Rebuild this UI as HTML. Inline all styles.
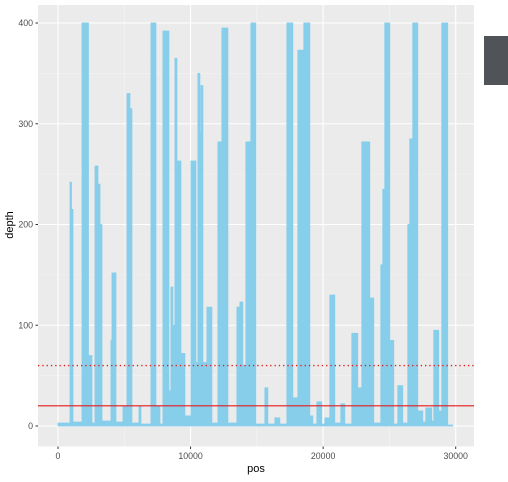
<!DOCTYPE html>
<html><head><meta charset="utf-8">
<style>
html,body{margin:0;padding:0;background:#fff;}
svg{display:block;font-family:"Liberation Sans",sans-serif;}
</style></head>
<body>
<svg id="chart" width="508" height="482" viewBox="0 0 508 482" xmlns="http://www.w3.org/2000/svg">
<rect x="38" y="5" width="436" height="441.5" fill="#EBEBEB"/>
<g id="grid"></g>
<g id="marks"></g>
<g id="axes"></g>
<rect x="484" y="36" width="24" height="49" fill="#505357"/>
<text x="256" y="472" font-size="11" text-anchor="middle" fill="#000">pos</text>
<text x="13" y="225" font-size="11" text-anchor="middle" fill="#000" transform="rotate(-90 13 225)">depth</text>
</svg>
<script>
const segStart = [0,905,1018,1130,1809,2299,2563,2789,3015,3166,3317,3995,4071,4372,4900,5202,5428,5578,6106,6257,7010,7387,7689,7915,8367,8518,8669,8820,8970,9272,9573,10026,10403,10553,10704,10779,10930,11232,11609,12061,12362,12815,13493,13719,13945,14171,14548,14925,15604,15830,16357,16734,17262,17714,18091,18543,18996,19222,19524,19900,20127,20503,20880,21332,21634,22161,22613,22915,23518,23820,24348,24498,24649,25026,25328,25629,26006,26383,26533,26760,27137,27514,27740,28192,28343,28720,28946,29398];
const segDepth = [3,242,215,4,400,70,3,258,240,200,5,85,152,4,20,330,315,3,20,2,400,20,2,392,35,138,100,365,263,72,10,263,63,350,290,338,63,118,3,282,395,3,118,123,60,282,400,2,38,2,8,2,400,28,373,400,10,2,24,2,8,130,3,22,2,92,38,282,127,3,160,235,400,85,2,40,3,200,285,400,15,4,18,5,95,15,400,1];
const lastEnd = 29775;
const xTicks = [0,10000,20000,30000];
const xMinor = [5000,15000,25000];
const yTicks = [0,100,200,300,400];
const yMinor = [50,150,250,350];
const hLines = [20,60];

const NS="http://www.w3.org/2000/svg";
const X = v => 58 + v*(397.7/30000);
const Y = v => 426 - v*(403/400);
const grid=document.getElementById('grid'), marks=document.getElementById('marks'), axes=document.getElementById('axes');
function mk(tag,attrs,parent){const e=document.createElementNS(NS,tag);for(const k in attrs)e.setAttribute(k,attrs[k]);parent.appendChild(e);return e;}

xMinor.forEach(v=>{const l=mk('line',{x1:X(v),x2:X(v),y1:5,y2:446.5,stroke:'#F5F5F5','stroke-width':0.6},grid);

});
yMinor.forEach(v=>{const l=mk('line',{x1:38,x2:474,y1:Y(v),y2:Y(v),stroke:'#F5F5F5','stroke-width':0.6},grid);

});
xTicks.forEach(v=>{const l=mk('line',{x1:X(v),x2:X(v),y1:5,y2:446.5,stroke:'#fff','stroke-width':1.1},grid);


const t=mk('line',{x1:X(v),x2:X(v),y1:446.5,y2:449,stroke:'#333','stroke-width':1},axes);


const tx=mk('text',{x:X(v),y:459,'font-size':8.8,'text-anchor':'middle',fill:'#4D4D4D'},axes);tx.textContent=v;

});
yTicks.forEach(v=>{const l=mk('line',{x1:38,x2:474,y1:Y(v),y2:Y(v),stroke:'#fff','stroke-width':1.1},grid);


const t=mk('line',{x1:35.5,x2:38,y1:Y(v),y2:Y(v),stroke:'#333','stroke-width':1},axes);


const tx=mk('text',{x:33,y:Y(v)+3,'font-size':8.8,'text-anchor':'end',fill:'#4D4D4D'},axes);tx.textContent=v;

});

let d='M'+X(segStart[0])+','+Y(0);
segStart.forEach((s,i)=>{const e=i+1<segStart.length?segStart[i+1]:lastEnd;d+=' L'+X(s)+','+Y(segDepth[i])+' L'+X(e)+','+Y(segDepth[i]);});
d+=' L'+X(lastEnd)+','+Y(0)+' Z';
const area=mk('path',{d:d,fill:'#87CEEB',stroke:'#87CEEB','stroke-width':0.8,'stroke-linejoin':'round'},marks);



hLines.forEach((v,i)=>{const l=mk('line',{x1:38,x2:474,y1:Y(v),y2:Y(v),stroke:'#E41A1C','stroke-width':i===0?1.1:1.3,'stroke-dasharray':i===0?'none':'1.3,3'},marks);

});
</script>
</body></html>
